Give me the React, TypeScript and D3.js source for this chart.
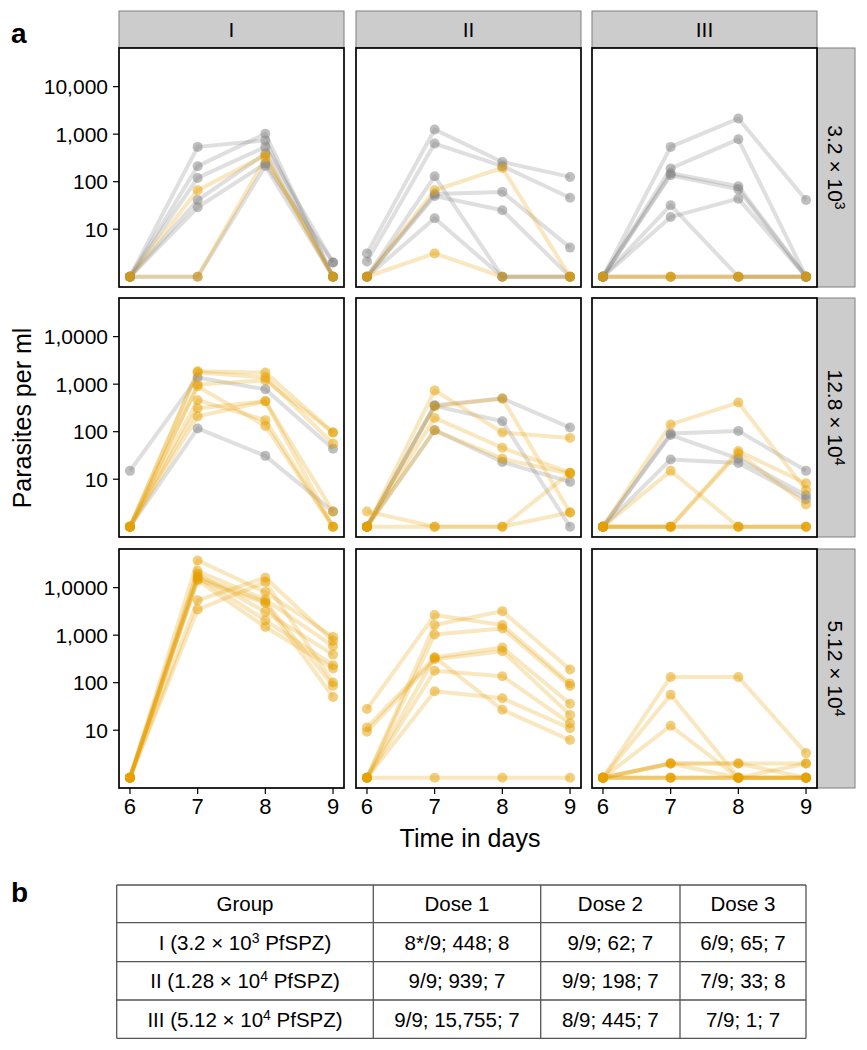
import React from 'react';
import * as d3 from 'd3';

// ---------- data ----------
const days = [6, 7, 8, 9];
const colLabels = ['I', 'II', 'III'];
const rowLabelBase = ['3.2 × 10', '12.8 × 10', '5.12 × 10'];
const rowLabelExp = ['3', '4', '4'];

const yTickValues = [10, 100, 1000, 10000];
const yTickLabelsRow1 = ['10', '100', '1,000', '10,000'];
const yTickLabelsOther = ['10', '100', '1,000', '1,0000'];

// Row 1 (3.2 x 10^3)
const r1I = [
  [1, 540, 740, 1], [1, 212, 1020, 1], [1, 120, 540, 2], [1, 41, 390, 1],
  [1, 29, 240, 2], [1, 1, 215, 1], [1, 66, 360, 1], [1, 1, 310, 1],
];
const r1IStatus = ['g', 'g', 'g', 'g', 'g', 'g', 'o', 'o'];
const r1II = [
  [3.1, 1250, 260, 126], [2.1, 635, 212, 46], [1, 55, 61, 4.1], [1, 130, 1, 1],
  [1, 50, 25, 1], [1, 17, 1, 1], [1, 66, 195, 1], [1, 3.1, 1, 1],
];
const r1IIStatus = ['g', 'g', 'g', 'g', 'g', 'g', 'o', 'o'];
const r1III = [
  [1, 540, 2130, 41], [1, 190, 780, 1], [1, 150, 80, 1], [1, 137, 69, 1],
  [1, 32, 1, 1], [1, 18, 44, 1], [1, 1, 1, 1], [1, 1, 1, 1], [1, 1, 1, 1],
];
const r1IIIStatus = ['g', 'g', 'g', 'g', 'g', 'g', 'g', 'o', 'o'];

// Row 2 (12.8 x 10^4)
const r2I = [
  [15, 1380, 780, 44], [1, 117, 31, 2.1], [1, 1870, 1750, 96], [1, 1780, 1380, 56],
  [1, 980, 1200, 96], [1, 460, 175, 1], [1, 310, 436, 1], [1, 210, 436, 2.1], [1, 900, 132, 1],
];
const r2IStatus = ['g', 'g', 'o', 'o', 'o', 'o', 'o', 'o', 'o'];
const r2II = [
  [1, 360, 500, 122], [1, 350, 166, 1], [1, 107, 23, 8.8], [1, 740, 96, 74],
  [1, 340, 500, 2], [1, 195, 46, 13.6], [1, 107, 27, 13], [2.1, 1, 1, 13.6], [1, 1, 1, 2],
];
const r2IIStatus = ['g', 'g', 'g', 'o', 'o', 'o', 'o', 'o', 'o'];
const r2III = [
  [1, 92, 104, 15], [1, 85, 27, 4.6], [1, 26, 22, 3.8], [1, 142, 410, 5.9],
  [1, 15, 1, 1], [1, 1, 39, 8.2], [1, 1, 35, 2.95], [1, 1, 1, 1], [1, 1, 1, 1],
];
const r2IIIStatus = ['g', 'g', 'g', 'o', 'o', 'o', 'o', 'o', 'o'];

// Row 3 (5.12 x 10^4)
const r3I = [
  [1, 37400, 8100, 920], [1, 22400, 5600, 590], [1, 19600, 3090, 390],
  [1, 16700, 2050, 233], [1, 14200, 1480, 200], [1, 5400, 16200, 760],
  [1, 3460, 13100, 101], [1, 17000, 5000, 86], [1, 15000, 4700, 50],
];
const r3IStatus = ['o', 'o', 'o', 'o', 'o', 'o', 'o', 'o', 'o'];
const r3II = [
  [28, 2650, 1630, 96], [1, 1630, 3200, 190], [1, 1030, 1380, 85],
  [11.4, 340, 550, 36], [9.3, 310, 460, 21], [1, 178, 137, 14],
  [1, 66, 47, 11], [1, 340, 27, 6.2], [1, 1, 1, 1],
];
const r3IIStatus = ['o', 'o', 'o', 'o', 'o', 'o', 'o', 'o', 'o'];
const r3III = [
  [1, 132, 132, 3.3], [1, 56, 1, 1], [1, 12.4, 1, 1], [1, 2, 2, 2],
  [1, 2, 1, 1], [1, 2, 2, 1], [1, 1, 1, 2], [1, 1, 1, 1], [1, 1, 1, 1],
];
const r3IIIStatus = ['o', 'o', 'o', 'o', 'o', 'o', 'o', 'o', 'o'];

const panelValues = [
  [r1I, r1II, r1III],
  [r2I, r2II, r2III],
  [r3I, r3II, r3III],
];
const panelStatus = [
  [r1IStatus, r1IIStatus, r1IIIStatus],
  [r2IStatus, r2IIStatus, r2IIIStatus],
  [r3IStatus, r3IIStatus, r3IIIStatus],
];

// table
const tableHeader = ['Group', 'Dose 1', 'Dose 2', 'Dose 3'];
const groupNames = ['I (3.2 × 10', 'II (1.28 × 10', 'III (5.12 × 10'];
const groupExp = ['3', '4', '4'];
const dose1 = ['8*/9; 448; 8', '9/9; 939; 7', '9/9; 15,755; 7'];
const dose2 = ['9/9; 62; 7', '9/9; 198; 7', '8/9; 445; 7'];
const dose3 = ['6/9; 65; 7', '7/9; 33; 8', '7/9; 1; 7'];

// ---------- layout ----------
const FONT = '"Liberation Sans", Arial, Helvetica, sans-serif';
const PW = 225;
const PH = 239;
const colX = [119, 356, 592];
const rowY = [48, 298, 549];
const STRIP_TOP = 11;
const STRIP_H = 37;
const STRIP_RX = 817;
const STRIP_W = 38;
const GREY = '#808080';
const ORANGE = '#E69F00';
const TFS = 20.5;

const tableCols = [116.7, 373.3, 540.7, 680, 806];
const tableRows = [885, 922.7, 961.7, 1000, 1038.3];

const xScale = d3.scaleLinear().domain([5.838, 9.162]).range([0, PW]);
const yScale = d3.scaleLog().domain([Math.pow(10, -0.216), Math.pow(10, 4.813)]).range([PH, 0]);

const lineGen = d3
  .line<number>()
  .x((_, i) => xScale(days[i]))
  .y((v) => yScale(v));

function Panel({ r, c }: { r: number; c: number }) {
  const vals = panelValues[r][c];
  const st = panelStatus[r][c];
  const order = vals.map((_, i) => i).sort((a, b) => (st[a] === st[b] ? 0 : st[a] === 'g' ? -1 : 1));
  return (
    <g transform={`translate(${colX[c]},${rowY[r]})`}>
      <rect x={0} y={0} width={PW} height={PH} fill="white" />
      {order.map((i) => (
        <path
          key={'l' + i}
          d={lineGen(vals[i]) || ''}
          fill="none"
          stroke={st[i] === 'g' ? GREY : ORANGE}
          strokeOpacity={0.25}
          strokeWidth={4}
          strokeLinejoin="round"
        />
      ))}
      {order.map((i) =>
        vals[i].map((v, j) => (
          <circle
            key={'p' + i + '-' + j}
            cx={xScale(days[j])}
            cy={yScale(v)}
            r={5}
            fill={st[i] === 'g' ? GREY : ORANGE}
            fillOpacity={0.5}
          />
        ))
      )}
      <rect x={0} y={0} width={PW} height={PH} fill="none" stroke="#000" strokeWidth={1.7} />
    </g>
  );
}

export default function App() {
  const rows = [0, 1, 2];
  const cols = [0, 1, 2];
  return (
    <svg
      width={867}
      height={1050}
      style={{ position: 'absolute', left: 0, top: 0, background: 'white' }}
      fontFamily={FONT}
    >
      <rect x={0} y={0} width={867} height={1050} fill="white" />
      <text x={11} y={43} fontSize={28} fontWeight="bold">a</text>

      {/* top strips */}
      {cols.map((c) => (
        <g key={'ts' + c}>
          <rect x={colX[c]} y={STRIP_TOP} width={PW} height={STRIP_H} fill="#CCCCCC" stroke="#7F7F7F" strokeWidth={1} />
          <text x={colX[c] + PW / 2} y={STRIP_TOP + STRIP_H / 2} dy="0.36em" textAnchor="middle" fontSize={21}>
            {colLabels[c]}
          </text>
        </g>
      ))}

      {/* right strips */}
      {rows.map((r) => (
        <g key={'rs' + r}>
          <rect x={STRIP_RX} y={rowY[r]} width={STRIP_W} height={PH} fill="#CCCCCC" stroke="#7F7F7F" strokeWidth={1} />
          <text
            transform={`translate(${STRIP_RX + STRIP_W / 2},${rowY[r] + PH / 2}) rotate(90)`}
            dy="0.36em"
            textAnchor="middle"
            fontSize={21}
          >
            {rowLabelBase[r]}
            <tspan dy={-7} fontSize={14}>{rowLabelExp[r]}</tspan>
          </text>
        </g>
      ))}

      {/* panels */}
      {rows.map((r) => cols.map((c) => <Panel key={`p${r}${c}`} r={r} c={c} />))}

      {/* y axes */}
      {rows.map((r) => (
        <g key={'ya' + r} transform={`translate(${colX[0]},${rowY[r]})`}>
          {yTickValues.map((t, i) => (
            <g key={t} transform={`translate(0,${yScale(t)})`}>
              <line x1={-6} x2={0} y1={0} y2={0} stroke="#000" strokeWidth={1.2} />
              <text x={-11} dy="0.36em" textAnchor="end" fontSize={21}>
                {(r === 0 ? yTickLabelsRow1 : yTickLabelsOther)[i]}
              </text>
            </g>
          ))}
        </g>
      ))}

      {/* x axes */}
      {cols.map((c) => (
        <g key={'xa' + c} transform={`translate(${colX[c]},${rowY[2] + PH})`}>
          {days.map((d) => (
            <g key={d} transform={`translate(${xScale(d)},0)`}>
              <line x1={0} x2={0} y1={0} y2={6} stroke="#000" strokeWidth={1.2} />
              <text y={26} textAnchor="middle" fontSize={22}>{d}</text>
            </g>
          ))}
        </g>
      ))}

      {/* axis titles */}
      <text x={470} y={847} textAnchor="middle" fontSize={25}>Time in days</text>
      <text transform={`translate(31,${(rowY[0] + rowY[2] + PH) / 2}) rotate(-90)`} textAnchor="middle" fontSize={25}>
        Parasites per ml
      </text>

      {/* panel b */}
      <text x={11} y={902} fontSize={28} fontWeight="bold">b</text>
      <g>
        {tableRows.map((y, i) => (
          <line key={'hr' + i} x1={tableCols[0]} x2={tableCols[4]} y1={y} y2={y} stroke="#555" strokeWidth={1.3} />
        ))}
        {tableCols.map((x, i) => (
          <line key={'vr' + i} x1={x} x2={x} y1={tableRows[0]} y2={tableRows[4]} stroke="#555" strokeWidth={1.3} />
        ))}
        {tableHeader.map((h, i) => (
          <text key={'th' + i} x={(tableCols[i] + tableCols[i + 1]) / 2} y={(tableRows[0] + tableRows[1]) / 2 + 7.5} textAnchor="middle" fontSize={TFS}>
            {h}
          </text>
        ))}
        {groupNames.map((g, i) => {
          const yc = (tableRows[i + 1] + tableRows[i + 2]) / 2 + 7.5;
          return (
            <g key={'tr' + i}>
              <text x={(tableCols[0] + tableCols[1]) / 2} y={yc} textAnchor="middle" fontSize={TFS}>
                {g}
                <tspan dy={-7} fontSize={14}>{groupExp[i]}</tspan>
                <tspan dy={7}>{' PfSPZ)'}</tspan>
              </text>
              <text x={(tableCols[1] + tableCols[2]) / 2} y={yc} textAnchor="middle" fontSize={TFS}>{dose1[i]}</text>
              <text x={(tableCols[2] + tableCols[3]) / 2} y={yc} textAnchor="middle" fontSize={TFS}>{dose2[i]}</text>
              <text x={(tableCols[3] + tableCols[4]) / 2} y={yc} textAnchor="middle" fontSize={TFS}>{dose3[i]}</text>
            </g>
          );
        })}
      </g>
    </svg>
  );
}
